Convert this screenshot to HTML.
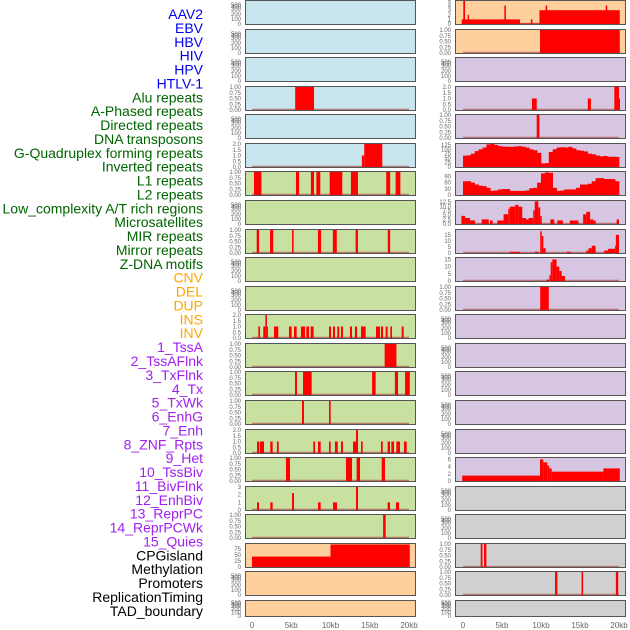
<!DOCTYPE html>
<html><head><meta charset="utf-8"><style>
html,body{margin:0;padding:0;background:#fff;width:630px;height:630px;overflow:hidden}
svg{display:block}
</style></head><body>
<svg id="chart" width="630" height="630" xmlns="http://www.w3.org/2000/svg" style="font-family:'Liberation Sans',sans-serif"></svg>
<script>
const trackLabels=["AAV2","EBV","HBV","HIV","HPV","HTLV-1","Alu repeats","A-Phased repeats","Directed repeats","DNA transposons","G-Quadruplex forming repeats","Inverted repeats","L1 repeats","L2 repeats","Low_complexity A/T rich regions","Microsatellites","MIR repeats","Mirror repeats","Z-DNA motifs","CNV","DEL","DUP","INS","INV","1_TssA","2_TssAFlnk","3_TxFlnk","4_Tx","5_TxWk","6_EnhG","7_Enh","8_ZNF_Rpts","9_Het","10_TssBiv","11_BivFlnk","12_EnhBiv","13_ReprPC","14_ReprPCWk","15_Quies","CPGisland","Methylation","Promoters","ReplicationTiming","TAD_boundary"];
const labelColors=["#0000ee","#0000ee","#0000ee","#0000ee","#0000ee","#0000ee","#006400","#006400","#006400","#006400","#006400","#006400","#006400","#006400","#006400","#006400","#006400","#006400","#006400","#ffa500","#ffa500","#ffa500","#ffa500","#ffa500","#a020f0","#a020f0","#a020f0","#a020f0","#a020f0","#a020f0","#a020f0","#a020f0","#a020f0","#a020f0","#a020f0","#a020f0","#a020f0","#a020f0","#a020f0","#000","#000","#000","#000","#000"];
const xTickValues=[0,5,10,15,20];
const xTickLabels=["0","5kb","10kb","15kb","20kb"];
const emptyTicks=["0","100","200","300","400","500"];
const leftBg=["b","b","b","b","b","b","g","g","g","g","g","g","g","g","g","g","g","g","g","o","o","o"];
const leftMax=[0,0,0,1,0,2,1,0,1,0,0,2,1,1,1,2,1,3,1,95,0,0];
const leftTicks=[null,null,null,["0.00","0.25","0.50","0.75","1.00"],null,["0.0","0.5","1.0","1.5","2.0"],["0.00","0.25","0.50","0.75","1.00"],null,["0.00","0.25","0.50","0.75","1.00"],null,null,["0.0","0.5","1.0","1.5","2.0"],["0.00","0.25","0.50","0.75","1.00"],["0.00","0.25","0.50","0.75","1.00"],["0.00","0.25","0.50","0.75","1.00"],["0.0","0.5","1.0","1.5","2.0"],["0.00","0.25","0.50","0.75","1.00"],["0","1","2","3"],["0.00","0.25","0.50","0.75","1.00"],["0","25","50","75"],null,null];
const leftTickVals=[null,null,null,[0,.25,.5,.75,1],null,[0,.5,1,1.5,2],[0,.25,.5,.75,1],null,[0,.25,.5,.75,1],null,null,[0,.5,1,1.5,2],[0,.25,.5,.75,1],[0,.25,.5,.75,1],[0,.25,.5,.75,1],[0,.5,1,1.5,2],[0,.25,.5,.75,1],[0,1,2,3],[0,.25,.5,.75,1],[0,25,50,75],null,null];
const leftBars=[[],[],[],[[5.5,7.9,1]],[],[[14.0,14.3,1],[14.3,16.6,2]],
[[0.25,1.2,1],[5.6,6.0,1],[7.5,7.9,1],[8.2,8.7,1],[9.9,11.5,1],[12.6,13.5,1],[17.1,17.6,1],[18.3,18.9,1]],
[],
[[0.6,0.9,1],[2.3,2.7,1],[5.1,5.3,1],[8.4,8.8,1],[10.3,10.8,1],[13.2,13.5,1],[17.3,17.6,1]],
[],[],
[[0.81,1.02,1],[1.44,1.7,1],[1.7,1.9,2],[1.9,2.0,1],[2.8,3.35,1],[4.71,5.05,1],[5.35,5.69,1],[6.24,6.75,1],[6.92,7.26,1],[7.47,7.85,1],[9.81,10.07,1],[10.32,10.57,1],[10.87,11.12,1],[11.34,11.59,1],[12.48,12.74,1],[13.12,13.38,1],[13.89,14.48,1],[15.8,16.3,1],[16.43,16.69,1],[17.03,17.28,1],[17.62,17.83,1],[19.07,19.32,1]],
[[16.9,18.4,1]],
[[5.48,5.73,1],[6.5,7.6,1],[15.3,15.75,1],[18.2,18.6,1],[19.5,20.1,1]],
[[6.37,6.62,1],[9.81,10.02,1]],
[[0.64,0.93,1],[1.02,1.53,1],[2.33,2.63,1],[3.18,3.4,1],[7.81,8.03,1],[8.41,8.75,1],[9.81,10.02,1],[10.57,10.92,1],[11.34,11.59,1],[12.87,13.25,1],[13.25,13.5,2],[13.89,14.1,1],[16.43,16.65,1],[17.28,17.58,1],[17.75,18.09,1],[18.39,18.85,1],[19.36,19.7,1]],
[[4.33,4.84,1],[11.97,12.74,1],[13.33,13.76,1],[16.52,16.94,1]],
[[0.64,0.89,1],[2.33,2.63,1],[5.1,5.35,2.2],[8.41,8.75,1],[10.32,10.83,1],[13.25,13.5,3],[17.28,17.58,1],[18.34,18.73,1]],
[[16.7,17.03,1]],
[[0,10,43],[10,20.1,93]],
[],[]];
const rightBg=["o","o","p","p","p","p","p","p","p","p","p","p","p","p","p","p","p","y","y","y","y","y"];
const rightMax=[5,1,0,2,1,130,112,13,19,16,1,0,0,0,0,0,6.4,0,0,1,1,0];
const rightTicks=[["0","1","2","3","4","5"],["0.00","0.25","0.50","0.75","1.00"],null,["0.0","0.5","1.0","1.5","2.0"],["0.00","0.25","0.50","0.75","1.00"],["0","25","50","75","100","125"],["0","30","60","90"],["0.0","2.5","5.0","7.5","10.0","12.5"],["0","5","10","15"],["0","5","10","15"],["0.00","0.25","0.50","0.75","1.00"],null,null,null,null,null,["0","2","4","6"],null,null,["0.00","0.25","0.50","0.75","1.00"],["0.00","0.25","0.50","0.75","1.00"],null];
const rightTickVals=[[0,1,2,3,4,5],[0,.25,.5,.75,1],null,[0,.5,1,1.5,2],[0,.25,.5,.75,1],[0,25,50,75,100,125],[0,30,60,90],[0,2.5,5,7.5,10,12.5],[0,5,10,15],[0,5,10,15],[0,.25,.5,.75,1],null,null,null,null,null,[0,2,4,6],null,null,[0,.25,.5,.75,1],[0,.25,.5,.75,1],null];
const gquadBins=[64,66,75,90,100,110,128,130,125,118,115,115,114,116,118,115,110,100,95,80,20,22,85,100,110,112,110,114,105,95,92,88,75,72,65,60,62,58,58,57];
const l1Bins=[67,67,60,51,45,43,35,20,22,27,29,29,20,20,20,20,22,33,35,60,105,110,108,35,20,22,27,27,27,35,51,51,55,67,82,82,78,78,77,67];
const rightBars=[
[[-0.17,7.3,1],[0.04,0.26,5],[0.6,0.77,2],[5.3,5.5,4],[7.3,9.8,0.1],[8.7,8.9,1],[9.8,20.1,3],[10.6,10.8,4],[18.3,18.5,4]],
[[9.87,20.1,1]],
[],
[[8.84,9.45,1],[16.0,16.4,1],[19.4,20.0,2],[20.0,20.1,1]],
[[9.45,9.8,1]],
null,null,
[[-0.2,0.26,4.6],[0.26,0.9,3.4],[0.9,1.54,2.0],[2.4,3.3,2.6],[3.46,3.8,2.0],[4.4,5.2,2.0],[5.2,5.8,5.5],[5.8,6.0,8.6],[6.0,6.7,9.8],[6.7,7.1,10.8],[7.1,7.6,9.8],[7.6,8.08,3.4],[8.08,8.4,2.6],[8.4,9.0,3.4],[9.0,9.2,7.7],[9.2,9.66,12.8],[9.66,9.9,9.4],[9.9,10.1,4.6],[11.2,11.7,2.6],[12.1,12.8,2.0],[13.7,14.8,2.0],[15.4,15.8,5.5],[15.8,16.3,6.9],[16.3,16.7,2.6],[16.7,17.0,2.0],[19.7,20.0,2.6]],
[[6.0,7.3,1],[9.2,9.66,1],[9.9,10.1,18],[10.1,10.3,14],[10.3,10.6,4],[13.3,13.8,1],[15.8,16.1,2],[16.1,16.5,4],[16.5,17.0,6],[18.1,18.6,2],[18.6,19.5,3.5],[19.5,19.6,6],[19.6,20.0,15]],
[[10.7,11.07,1],[11.07,11.24,4],[11.24,11.45,13],[11.45,12.0,15],[12.0,12.35,10],[12.35,12.65,7],[12.65,13.08,3.5]],
[[9.9,11.0,1]],
[],[],[],[],[],
[[-0.1,9.87,1.5],[9.87,10.3,6],[10.3,10.8,5.2],[10.8,11.07,4.3],[11.07,11.37,3.5],[11.37,18.0,2.6],[18.0,20.1,3.5]],
[],[],
[[2.27,2.5,1],[2.7,3.0,1]],
[[11.8,12.1,1],[15.2,15.4,1],[19.6,19.9,1]],
[]];
const bgColors={b:"#c8e4ec",g:"#c8e0a0",o:"#ffd09e",p:"#d6c6e2",y:"#d0d0d0"};
const emptyOffsets=[0,5,10,15,17.5,19];
const NS="http://www.w3.org/2000/svg";
const svg=document.getElementById('chart');
function mk(tag,attrs,parent){const e=document.createElementNS(NS,tag);for(const k in attrs)e.setAttribute(k,attrs[k]);(parent||svg).appendChild(e);return e;}
trackLabels.forEach((t,i)=>{
  const e=mk('text',{x:203,y:14+i*13.88+5,'text-anchor':'end','font-size':'14',fill:labelColors[i]});
  e.textContent=t;
  
  
});
function drawPanel(col,i,bg,max,ticks,tickVals,bars,bins){
  const px0=col?455:245,px1=col?626:416;
  const d0=col?463:252,d1=col?619:409;
  const xs=k=>d0+(d1-d0)*k/20;
  const top=Math.round(i*28.57);const h=(i===21)?17:25;const bot=top+h;
  const g=mk('g',{});
  
  
  mk('rect',{x:px0,y:top,width:px1-px0,height:h,fill:bgColors[bg]},g);
  const ys=v=>bot-1-(v/max)*(h-2);
  if(max>0){
    mk('line',{x1:xs(0),x2:xs(20),y1:bot-1.5,y2:bot-1.5,stroke:'#b05050','stroke-width':1.5,opacity:0.7},g);
  }
  if(bins){
    bins.forEach((v,j)=>{
      const r=mk('rect',{x:xs(j*0.5),y:ys(v),width:xs(0.5)-xs(0)+0.3,height:bot-1-ys(v),fill:'#ff0000'},g);
      
      
    });
  }
  (bars||[]).forEach(b=>{
    const y=Math.max(top,ys(b[2]));
    const r=mk('rect',{x:xs(b[0]),y:y,width:Math.max(1,xs(b[1])-xs(b[0])),height:bot-1-y,fill:'#ff0000'},g);
    
    
  });
  mk('rect',{x:px0+0.5,y:top+0.5,width:px1-px0-1,height:h-1,fill:'none',stroke:'#555','stroke-width':1},g);
  const tg=mk('g',{'font-size':'6',fill:'#666','text-anchor':'end'},g);
  
  
  if(ticks){
    ticks.forEach((t,j)=>{const e=mk('text',{x:px0-4,y:ys(tickVals[j])+2},tg);e.textContent=t;});
  }else{
    emptyTicks.forEach((t,j)=>{const e=mk('text',{x:px0-4,y:bot-1-emptyOffsets[j]*(h/25)+2},tg);e.textContent=t;});
  }
}
for(let i=0;i<22;i++){
  drawPanel(0,i,leftBg[i],leftMax[i],leftTicks[i],leftTickVals[i],leftBars[i],null);
  drawPanel(1,i,rightBg[i],rightMax[i],rightTicks[i],rightTickVals[i],rightBars[i],i===5?gquadBins:(i===6?l1Bins:null));
}
[[252,409],[463,619]].forEach((r,c)=>{
  const g=mk('g',{'font-size':'8',fill:'#666','text-anchor':'middle'});
  
  
  xTickValues.forEach((v,j)=>{const e=mk('text',{x:r[0]+(r[1]-r[0])*v/20,y:628},g);e.textContent=xTickLabels[j];});
});
</script>
</body></html>
